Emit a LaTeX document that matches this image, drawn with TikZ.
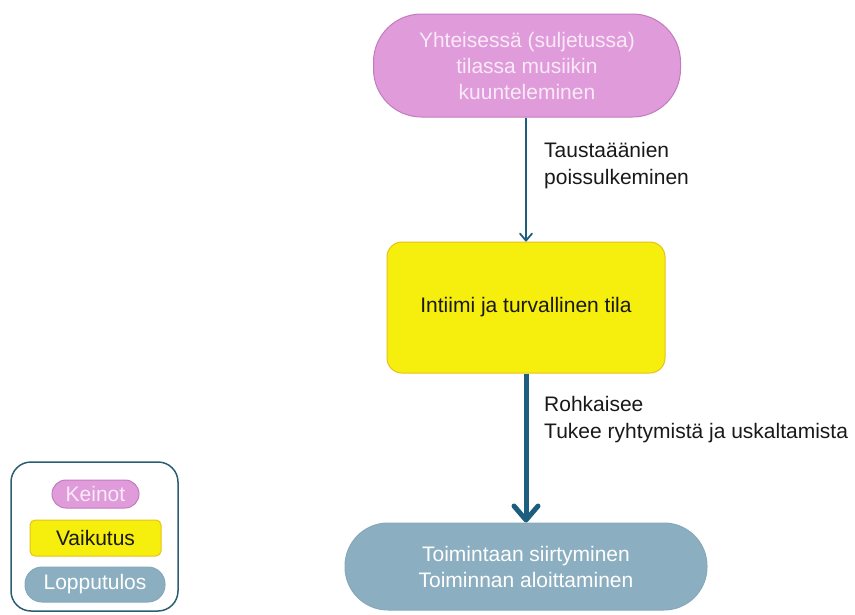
\documentclass[tikz,border=0pt]{standalone}
\usepackage{fontspec}
\setmainfont{Liberation Sans}
\usetikzlibrary{arrows.meta}
\definecolor{pinkfill}{HTML}{E09BDB}
\definecolor{pinkdraw}{HTML}{C47BBE}
\definecolor{pinktext}{HTML}{FAEAF7}
\definecolor{yelfill}{HTML}{F6EE0C}
\definecolor{yeldraw}{HTML}{E6C21A}
\definecolor{bluefill}{HTML}{8BAFC1}
\definecolor{bluedraw}{HTML}{86A9BA}
\definecolor{arrowcol}{HTML}{1D5E7E}
\definecolor{legdraw}{HTML}{2A5E70}
\tikzset{
  base/.style={font=\fontsize{21}{26}\selectfont, align=center, inner sep=0pt, line width=1pt},
  keinobox/.style={base, fill=pinkfill, draw=pinkdraw, text=pinktext},
  vaikbox/.style={base, fill=yelfill, draw=yeldraw, text=black!90},
  tulosbox/.style={base, fill=bluefill, draw=bluedraw, text=white},
  lbl/.style={font=\fontsize{21}{27}\selectfont, align=left, anchor=west, inner sep=0pt, text=black!90},
}
\begin{document}
\begin{tikzpicture}[x=1pt, y=-1pt]
\useasboundingbox (0,0) rectangle (855,614);
\node[keinobox, minimum width=307pt, minimum height=103pt, rounded corners=48pt] (a) at (527,65.5) {Yhteisessä (suljetussa)\\tilassa musiikin\\kuunteleminen};
\node[vaikbox, minimum width=278pt, minimum height=131pt, rounded corners=15pt] (b) at (526,307.5) {Intiimi ja turvallinen tila};
\node[tulosbox, minimum width=362pt, minimum height=87pt, rounded corners=43pt] (c) at (526,566.5) {Toimintaan siirtyminen\\Toiminnan aloittaminen};
\draw[arrowcol, line width=1.8pt, -{Straight Barb[length=7pt,width=12pt,line join=round,line cap=round]}] (a.south -| b.north) -- (b.north);
\draw[arrowcol, line width=5pt, -{Straight Barb[length=14pt,width=24pt,line join=round,line cap=round]}] (b.south) -- (b.south |- c.north);
\node[lbl] (l1) at (544,166) {Taustaäänien\\poissulkeminen};
\node[lbl] (l2) at (544,420) {Rohkaisee\\Tukee ryhtymistä ja uskaltamista};
% legend
\node[draw=legdraw, line width=1.5pt, rounded corners=20pt, minimum width=167pt, minimum height=149pt, inner sep=0pt] (leg) at (94.5,536.5) {};
\node[keinobox, minimum width=87pt, minimum height=28pt, rounded corners=14pt] (k) at (95.5,494) {Keinot};
\node[vaikbox, minimum width=131pt, minimum height=36pt, rounded corners=5pt] (v) at (95.5,538) {Vaikutus};
\node[tulosbox, minimum width=140pt, minimum height=35pt, rounded corners=17pt] (t) at (95,584.5) {Lopputulos};
\end{tikzpicture}
\end{document}
